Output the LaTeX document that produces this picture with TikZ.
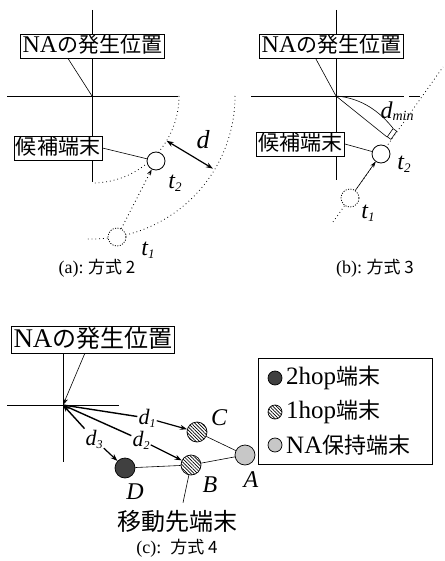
\documentclass[tikz,border=0pt]{standalone}
\usepackage{fontspec}
\setmainfont{Liberation Serif}
\newfontfamily\cjkf{Noto Sans CJK JP}
\usetikzlibrary{arrows.meta,patterns.meta,calc}
\newcommand\jp[2]{{\fontsize{#1}{#1}\cjkf #2}}
\newcommand\ltsz[1]{\fontsize{#1}{#1}\selectfont}
\begin{document}
\begin{tikzpicture}[x=1pt,y=-1pt,
  ax/.style={line width=0.7pt},
  thin line/.style={line width=0.6pt},
  dotline/.style={line width=0.8pt,dash pattern=on 0.8pt off 3pt},
  labbox/.style={draw,line width=0.8pt,fill=white,inner sep=2pt,text height=17pt,text depth=3pt},
  term/.style={circle,draw,line width=0.8pt,fill=white,minimum size=18pt,inner sep=0pt},
  dterm/.style={circle,draw,line width=0.8pt,dash pattern=on 1pt off 1.5pt,fill=white,minimum size=18pt,inner sep=0pt},
  node/.style={circle,draw,line width=0.7pt,minimum size=20pt,inner sep=0pt},
  lnode/.style={circle,draw,line width=0.7pt,minimum size=14pt,inner sep=0pt},
  hatch/.style={preaction={fill=white},pattern={Lines[angle=-45,distance=2.4pt,line width=0.7pt]}},
  dark/.style={fill=black!75},
  lgray/.style={fill=black!22},
  tip/.style={-{Stealth[length=7pt,width=5pt]}},
  it/.style={font=\ltsz{24}\itshape,inner sep=0pt}
]
\useasboundingbox (0,0) rectangle (444,561);

% ================= (a) =================
\coordinate (oA) at (92,96);
\draw[ax] (92,10) -- (92,182);
\draw[ax] (7,96) -- (178,96);
\draw[dotline] plot[domain=0:90,samples=60] ({92+87*cos(\x)},{96+87*sin(\x)});
\draw[dotline] plot[domain=0:92,samples=80] ({92+143*cos(\x)},{96+143*sin(\x)});
\node[labbox] (naA) at (92.5,46) {\ltsz{24}NA\jp{21}{の発生位置}};
\draw[thin line] ($(naA.south west)!0.33!(naA.south east)$) -- (oA);
\node[labbox] (candA) at (58,148) {\jp{21}{候補端末}};
\node[term] (t2a) at (156,161) {};
\node[dterm] (t1a) at (117,237) {};
\draw[thin line] (candA.east) -- (t2a);
\draw[dotline,line width=0.9pt,-{Stealth[length=6pt,width=4pt]}] (t1a) -- (t2a);
\coordinate (dA1) at (166.6,140.8);
\coordinate (dA2) at (212.9,168.6);
\draw[line width=1.2pt,{Stealth[length=7pt,width=5pt]}-{Stealth[length=7pt,width=5pt]}] (dA1) -- (dA2);
\node[it,font=\ltsz{26}\itshape] (dlab) at (203,140) {d};
\node[it] (t2alab) at (175,183) {t\raisebox{-3pt}{\ltsz{13}\itshape 2}};
\node[it] (t1alab) at (148,250) {t\raisebox{-3pt}{\ltsz{13}\itshape 1}};
\node (capA) at (97,268) {\ltsz{18}(a):\ \jp{17}{方式 2}};

% ================= (b) =================
\coordinate (oB) at (336,96);
\draw[ax] (336,10) -- (336,180);
\draw[ax] (251,96) -- (404,96);
\draw[ax] (409,96) -- (420,96);
\draw[dotline] (333,222) -- (443,67);
\node[labbox] (naB) at (331.5,46) {\ltsz{24}NA\jp{21}{の発生位置}};
\draw[thin line] ($(naB.south west)!0.39!(naB.south east)$) -- (oB);
\node[draw,line width=0.6pt,fill=white,minimum width=10pt,minimum height=4.5pt,inner sep=0pt,rotate=54.8] (rt) at (392,134) {};
\draw[thin line] (oB) -- (rt.north west);
\draw[thin line] (oB) .. controls (362,98) and (380,112) .. (rt.north east);
\node[inner sep=0pt] (dmin) at (397,111) {\ltsz{24}\itshape d\raisebox{-2pt}{\ltsz{14}\itshape min}};
\node[labbox] (candB) at (300.5,144) {\jp{21}{候補端末}};
\node[term] (t2b) at (381,154) {};
\node[dterm] (t1b) at (350,198) {};
\draw[thin line] (candB.east) -- (t2b);
\draw[thin line,-{Stealth[length=6pt,width=4pt]}] (t1b) -- (t2b);
\node[it] (t2blab) at (404,164) {t\raisebox{-3pt}{\ltsz{13}\itshape 2}};
\node[it] (t1blab) at (368,213) {t\raisebox{-3pt}{\ltsz{13}\itshape 1}};
\node (capB) at (375,268) {\ltsz{18}(b):\ \jp{17}{方式 3}};

% ================= (c) =================
\coordinate (oC) at (63,405);
\draw[ax] (63,353) -- (63,462);
\draw[ax] (7,405) -- (119,405);
\node[labbox,text height=19pt,text depth=4pt] (naC) at (93,339.5) {\ltsz{27}NA\jp{24}{の発生位置}};
\draw[thin line,tip] ($(naC.south west)!0.45!(naC.south east)$) -- (oC);

\node[node,hatch] (C) at (197,432) {};
\node[node,hatch] (B) at (191,465) {};
\node[node,dark] (D) at (125,468) {};
\node[node,lgray] (A) at (245,455) {};
\draw[thin line] (C) -- (A);
\draw[thin line] (B) -- (A);
\draw[thin line] (D) -- (B);

\node[inner sep=1pt] (d1) at (147,418) {\ltsz{22}\itshape d\raisebox{-3pt}{\ltsz{12}\itshape 1}};
\node[inner sep=1pt] (d2) at (141,440) {\ltsz{22}\itshape d\raisebox{-3pt}{\ltsz{12}\itshape 2}};
\node[inner sep=1pt] (d3) at (94,439) {\ltsz{22}\itshape d\raisebox{-3pt}{\ltsz{12}\itshape 3}};
\draw[line width=1.4pt] (oC) -- (d1);
\draw[line width=1.4pt] (oC) -- (d2);
\draw[line width=1.4pt,tip] (d3) -- (oC);
\draw[line width=1.2pt,tip] (d1) -- (C);
\draw[line width=1.2pt,tip] (d2) -- (B);
\draw[line width=1.2pt,tip] (d3) -- (D);

\node[it] (Clab) at (219,418) {C};
\node[it] (Blab) at (210,485) {B};
\node[it] (Alab) at (251,480) {A};
\node[it] (Dlab) at (135,492) {D};

\node[inner sep=1pt] (mv) at (177,521) {\jp{24}{移動先端末}};
\draw[thin line] (B) -- ($(mv.north)+(6,-6)$);
\node (capC) at (177,548) {\ltsz{18}(c):\ \ \jp{17}{方式 4}};

% legend
\draw[line width=0.8pt] (258,358) rectangle (432,464);
\node[lnode,dark] (l1) at (275,378) {};
\node[lnode,hatch] (l2) at (275,412) {};
\node[lnode,lgray] (l3) at (275,445) {};
\node[anchor=west,inner sep=0pt] (l1t) at (286,378) {\ltsz{25}2hop\jp{22}{端末}};
\node[anchor=west,inner sep=0pt] (l2t) at (286,412) {\ltsz{25}1hop\jp{22}{端末}};
\node[anchor=west,inner sep=0pt] (l3t) at (286,445) {\ltsz{25}NA\jp{22}{保持端末}};
\end{tikzpicture}
\end{document}
